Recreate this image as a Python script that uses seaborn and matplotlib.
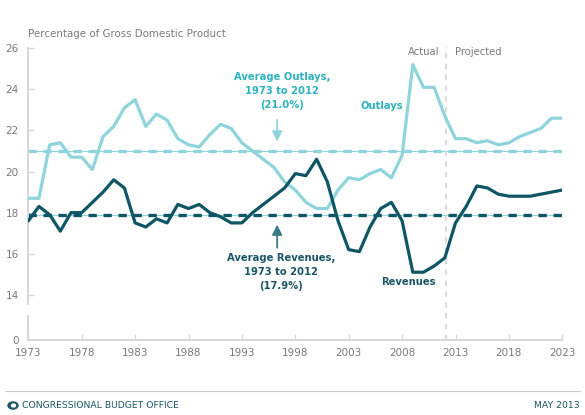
import numpy as np
import pandas as pd
import matplotlib
matplotlib.use("Agg")
import matplotlib.pyplot as plt
import seaborn as sns
from matplotlib.patches import Circle

years = list(range(1973, 2024))
outlays = [18.7, 18.7, 21.3, 21.4, 20.7, 20.7, 20.1, 21.7, 22.2, 23.1,
           23.5, 22.2, 22.8, 22.5, 21.6, 21.3, 21.2, 21.8, 22.3, 22.1,
           21.4, 21.0, 20.6, 20.2, 19.5, 19.1, 18.5, 18.2, 18.2, 19.1,
           19.7, 19.6, 19.9, 20.1, 19.7, 20.8, 25.2, 24.1, 24.1, 22.7,
           21.6, 21.6, 21.4, 21.5, 21.3, 21.4, 21.7, 21.9, 22.1, 22.6, 22.6]
revenues = [17.6, 18.3, 17.9, 17.1, 18.0, 18.0, 18.5, 19.0, 19.6, 19.2,
            17.5, 17.3, 17.7, 17.5, 18.4, 18.2, 18.4, 18.0, 17.8, 17.5,
            17.5, 18.0, 18.4, 18.8, 19.2, 19.9, 19.8, 20.6, 19.5, 17.6,
            16.2, 16.1, 17.3, 18.2, 18.5, 17.6, 15.1, 15.1, 15.4, 15.8,
            17.5, 18.3, 19.3, 19.2, 18.9, 18.8, 18.8, 18.8, 18.9, 19.0, 19.1]
avg_outlays = 21.0
avg_revenues = 17.9
xtick_years = [1973, 1978, 1983, 1988, 1993, 1998, 2003, 2008, 2013, 2018, 2023]
ytick_vals = [14, 16, 18, 20, 22, 24, 26]
zero_pos = 11.8

LIGHT = "#8fd4dd"
LIGHT_TXT = "#2db2c0"
DARK = "#0e5565"
DARK_TXT = "#1b5666"
GRAY = "#d8d8d8"
TXT_GRAY = "#7a7a7a"

sns.set_theme(style="white")
plt.rcParams['font.family'] = ['DejaVu Sans']

df = pd.DataFrame({
    "year": years * 2,
    "value": outlays + revenues,
    "series": ["Outlays"] * len(years) + ["Revenues"] * len(years),
})

fig = plt.figure(figsize=(5.85, 4.15), dpi=100)
ax = fig.add_axes([28.3 / 585, 1 - 340 / 415, (562.3 - 28.3) / 585, (340 - 48.3) / 415])

# average lines (thin solid + dashed)
ax.axhline(avg_outlays, color=LIGHT, lw=0.8, zorder=1)
ax.axhline(avg_outlays, color=LIGHT, lw=2.4, ls=(0, (2.5, 2.0)), zorder=1)
ax.axhline(avg_revenues, color=LIGHT, lw=0.8, zorder=1)
ax.axhline(avg_revenues, color=DARK, lw=2.4, ls=(0, (2.5, 2.0)), zorder=1)

sns.lineplot(data=df, x="year", y="value", hue="series",
             palette={"Outlays": LIGHT, "Revenues": DARK},
             lw=2.3, legend=False, ax=ax, zorder=3)

ax.set_xlim(1973, 2023)
ax.set_ylim(zero_pos, 26)

# vertical actual/projected divider
ax.axvline(2012.1, ymin=0, ymax=1.006, color=GRAY, lw=1.3, ls=(0, (3, 3)), clip_on=False, zorder=2)

# spines
for s in ["top", "right", "left"]:
    ax.spines[s].set_visible(False)
ax.spines["bottom"].set_color(GRAY)
ax.spines["bottom"].set_linewidth(1.5)
rng = 26 - zero_pos
ax.axvline(1973, ymin=0, ymax=(12.98 - zero_pos) / rng, color=GRAY, lw=1.5, clip_on=False)
ax.axvline(1973, ymin=(13.56 - zero_pos) / rng, ymax=1, color=GRAY, lw=1.5, clip_on=False)

ax.set_yticks([zero_pos] + ytick_vals)
ax.set_yticklabels(["0"] + [str(v) for v in ytick_vals])
ax.set_xticks(xtick_years)
ax.set_xticklabels([str(y) for y in xtick_years])
ax.set_xticks([2012], minor=True)
ax.tick_params(axis="both", direction="in", length=4, width=1, color=GRAY,
               labelcolor=TXT_GRAY, labelsize=7.5)
ax.tick_params(axis="y", pad=7, left=True)
ax.tick_params(axis="x", pad=6, bottom=True)
ax.tick_params(axis="x", which="minor", direction="in", length=4, width=1, color=GRAY, bottom=True)
ax.yaxis.get_major_ticks()[0].tick1line.set_visible(False)
ax.set_xlabel("")
ax.set_ylabel("")
ax.grid(False)

cond = dict(fontstretch="condensed", fontweight="bold")
ax.text(1996.75, 23.91, "Average Outlays,\n1973 to 2012\n(21.0%)", ha="center", va="center",
        multialignment="center", color=LIGHT_TXT, fontsize=8.0, linespacing=1.5, **cond)
ax.annotate("", xy=(1996.3, 21.33), xytext=(1996.3, 22.65),
            arrowprops=dict(arrowstyle="-|>,head_width=0.25,head_length=0.5", color=LIGHT, lw=1.3))
ax.text(1996.66, 15.09, "Average Revenues,\n1973 to 2012\n(17.9%)", ha="center", va="center",
        multialignment="center", color=DARK_TXT, fontsize=8.0, linespacing=1.5, **cond)
ax.annotate("", xy=(1996.3, 17.55), xytext=(1996.3, 16.16),
            arrowprops=dict(arrowstyle="-|>,head_width=0.25,head_length=0.5", color="#3c7c88", lw=1.3))
ax.text(2006.1, 23.19, "Outlays", ha="center", va="center", color=LIGHT_TXT, fontsize=8.0, **cond)
ax.text(2008.55, 14.61, "Revenues", ha="center", va="center", color=DARK_TXT, fontsize=8.0, **cond)
ax.text(2011.45, 25.8, "Actual", ha="right", va="center", color=TXT_GRAY, fontsize=7.2)
ax.text(2012.95, 25.8, "Projected", ha="left", va="center", color=TXT_GRAY, fontsize=7.2)

fig.text(28 / 585, 1 - 34 / 415, "Percentage of Gross Domestic Product", ha="left", va="center",
         color=TXT_GRAY, fontsize=7.35)

# footer
fig.add_artist(plt.Line2D([5 / 585, 580 / 585], [1 - 391 / 415] * 2, color="#cccccc", lw=0.8))
fig.text(22 / 585, 1 - 405.5 / 415, "CONGRESSIONAL BUDGET OFFICE", ha="left", va="center",
         color=DARK_TXT, fontsize=6.7)
fig.text(580 / 585, 1 - 405.5 / 415, "MAY 2013", ha="right", va="center",
         color=DARK_TXT, fontsize=6.7)
logo = Circle((13 / 585, 1 - 405.5 / 415), 0.0085, transform=fig.transFigure, color=DARK_TXT)
fig.add_artist(logo)
fig.add_artist(Circle((13.5 / 585, 1 - 405.5 / 415), 0.0035, transform=fig.transFigure, color="white"))

fig.savefig("out.png", dpi=100)
